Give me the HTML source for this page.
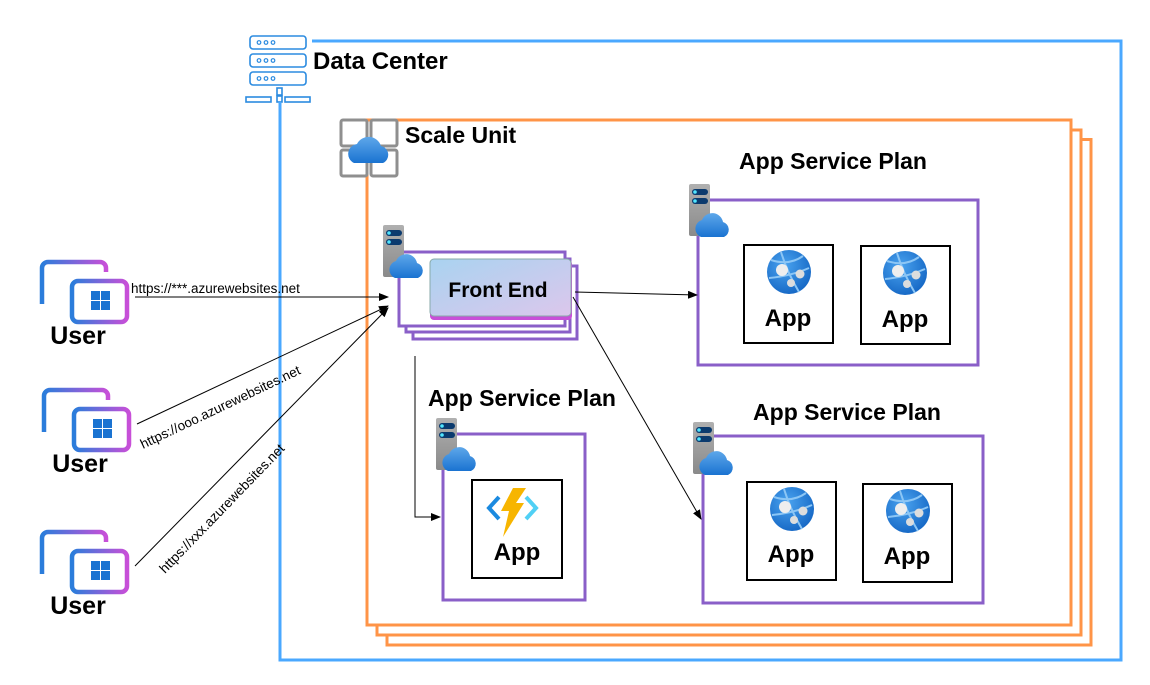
<!DOCTYPE html>
<html><head><meta charset="utf-8"><style>
html,body{margin:0;padding:0;background:#fff;}
svg{display:block;font-family:"Liberation Sans","DejaVu Sans",sans-serif;}
.h{font-weight:bold;}
</style></head><body>
<svg width="1150" height="685" viewBox="0 0 1150 685" xmlns="http://www.w3.org/2000/svg">
<defs>
<linearGradient id="cloud" x1="0" y1="0" x2="0" y2="1"><stop offset="0" stop-color="#5ea7ea"/><stop offset="1" stop-color="#1a73d1"/></linearGradient>
<linearGradient id="srv" x1="0" y1="0" x2="0" y2="1"><stop offset="0" stop-color="#b0b0b0"/><stop offset="1" stop-color="#8a8a8a"/></linearGradient>
<linearGradient id="fe" x1="0" y1="0" x2="1" y2="1"><stop offset="0" stop-color="#a9d3f0"/><stop offset="1" stop-color="#dcc7ec"/></linearGradient>
<linearGradient id="usr" x1="0" y1="0" x2="1" y2="0"><stop offset="0" stop-color="#2a7ddb"/><stop offset="1" stop-color="#c84fd8"/></linearGradient>
<radialGradient id="globe" cx="0.4" cy="0.35" r="0.7"><stop offset="0" stop-color="#4aa3ef"/><stop offset="1" stop-color="#1466c4"/></radialGradient>
<marker id="ah" markerWidth="10" markerHeight="8" refX="9" refY="4" orient="auto" markerUnits="userSpaceOnUse"><path d="M0,0 L10,4 L0,8 z" fill="#000"/></marker>
<g id="server">
<rect x="0" y="0" width="21" height="52" rx="2" fill="url(#srv)"/>
<rect x="3" y="5" width="16" height="6" rx="3" fill="#0b3a6e"/><circle cx="6" cy="8" r="1.8" fill="#50e6ff"/>
<rect x="3" y="14" width="16" height="6" rx="3" fill="#0b3a6e"/><circle cx="6" cy="17" r="1.8" fill="#50e6ff"/>
<path d="M12,53 a9,9 0 0 1 1,-17 a11,11 0 0 1 21,2 a8,8 0 0 1 1,15 z" fill="url(#cloud)"/>
</g>
<g id="globeapp">
<circle cx="0" cy="0" r="22" fill="url(#globe)"/>
<path d="M-18,-12 Q0,-6 14,-16 M-8,-20 Q-2,0 10,20 M-20,6 Q2,4 20,-4" stroke="#8cc6f5" stroke-width="2" fill="none"/>
<circle cx="-7" cy="-2" r="6" fill="#eee"/><circle cx="11" cy="2" r="4.5" fill="#ddd"/><circle cx="2" cy="11" r="4" fill="#ddd"/>
</g>
<g id="user">
<path d="M4,44 V8 a6,6 0 0 1 6,-6 H62 a6,6 0 0 1 6,6 V12" stroke="url(#usr)" stroke-width="4.5" fill="none"/>
<path d="M0,47 H30" stroke="url(#usr)" stroke-width="4.5"/>
<rect x="34" y="21" width="55" height="41" rx="6" fill="#fff" stroke="url(#usr)" stroke-width="4.5"/>
<rect x="53" y="31" width="9" height="9" fill="#1a73d1"/><rect x="63" y="31" width="9" height="9" fill="#1a73d1"/>
<rect x="53" y="41" width="9" height="9" fill="#1a73d1"/><rect x="63" y="41" width="9" height="9" fill="#1a73d1"/>
</g>
</defs>

<rect x="280" y="41" width="841" height="619" fill="none" stroke="#4aa8ff" stroke-width="3"/>
<rect x="240" y="34" width="72" height="68" fill="#fff"/>
<g stroke="#2b8be0" stroke-width="1.6" fill="#fff">
<rect x="250" y="36" width="56" height="13" rx="3"/><rect x="250" y="54" width="56" height="13" rx="3"/><rect x="250" y="72" width="56" height="13" rx="3"/>
<rect x="246" y="97" width="25" height="5"/><rect x="285" y="97" width="25" height="5"/>
<rect x="277" y="88" width="5" height="7"/><rect x="277" y="96" width="5" height="6"/>
</g>
<g fill="none" stroke="#2b8be0" stroke-width="1.2"><circle cx="259" cy="42.5" r="1.8"/><circle cx="266" cy="42.5" r="1.8"/><circle cx="273" cy="42.5" r="1.8"/>
<circle cx="259" cy="60.5" r="1.8"/><circle cx="266" cy="60.5" r="1.8"/><circle cx="273" cy="60.5" r="1.8"/>
<circle cx="259" cy="78.5" r="1.8"/><circle cx="266" cy="78.5" r="1.8"/><circle cx="273" cy="78.5" r="1.8"/></g>
<line x1="280" y1="102" x2="280" y2="660" stroke="#4aa8ff" stroke-width="3"/>
<text x="313" y="69" font-size="24" class="h" fill="#000">Data Center</text>

<g fill="#fff" stroke="#ff9447" stroke-width="3">
<rect x="387" y="139.5" width="704" height="505.5"/>
<rect x="377" y="130" width="704" height="505"/>
<rect x="367" y="120" width="704" height="505"/>
</g>
<g stroke="#8f8f8f" stroke-width="3" fill="#fff">
<rect x="341" y="120" width="26" height="26" rx="2"/><rect x="371" y="120" width="26" height="26" rx="2"/>
<rect x="341" y="150" width="26" height="26" rx="2"/><rect x="371" y="150" width="26" height="26" rx="2"/>
</g>
<path d="M354,163 a10,10 0 0 1 3,-19 a13,13 0 0 1 24,2 a9,9 0 0 1 2,17 z" fill="url(#cloud)"/>
<text x="405" y="143" font-size="23" class="h" fill="#000">Scale Unit</text>

<g fill="#fff" stroke="#8a5fc8" stroke-width="3">
<rect x="413" y="266" width="164" height="73"/>
<rect x="406" y="259" width="164" height="73"/>
<rect x="399" y="252" width="166" height="74"/>
</g>
<rect x="430" y="260" width="142" height="60" rx="4" fill="#c84fd8"/>
<rect x="430" y="259" width="141" height="57" rx="4" fill="url(#fe)" stroke="#8aa" stroke-width="1"/>
<text x="498" y="297" font-size="21" class="h" text-anchor="middle" fill="#000">Front End</text>
<use href="#server" x="383" y="225"/>

<text x="833" y="169" font-size="23" class="h" text-anchor="middle" fill="#000">App Service Plan</text>
<rect x="698" y="200" width="280" height="165" fill="#fff" stroke="#8a5fc8" stroke-width="3"/>
<use href="#server" x="689" y="184"/>
<rect x="744" y="245" width="89" height="98" fill="#fff" stroke="#000" stroke-width="2"/>
<use href="#globeapp" x="789" y="272"/>
<text x="788" y="326" font-size="24" class="h" text-anchor="middle">App</text>
<rect x="861" y="246" width="89" height="98" fill="#fff" stroke="#000" stroke-width="2"/>
<use href="#globeapp" x="905" y="273"/>
<text x="905" y="327" font-size="24" class="h" text-anchor="middle">App</text>

<text x="847" y="420" font-size="23" class="h" text-anchor="middle" fill="#000">App Service Plan</text>
<rect x="703" y="436" width="280" height="167" fill="#fff" stroke="#8a5fc8" stroke-width="3"/>
<use href="#server" x="693" y="422"/>
<rect x="747" y="482" width="89" height="98" fill="#fff" stroke="#000" stroke-width="2"/>
<use href="#globeapp" x="792" y="509"/>
<text x="791" y="562" font-size="24" class="h" text-anchor="middle">App</text>
<rect x="863" y="484" width="89" height="98" fill="#fff" stroke="#000" stroke-width="2"/>
<use href="#globeapp" x="908" y="511"/>
<text x="907" y="564" font-size="24" class="h" text-anchor="middle">App</text>

<text x="522" y="406" font-size="23" class="h" text-anchor="middle" fill="#000">App Service Plan</text>
<rect x="443" y="434" width="142" height="166" fill="#fff" stroke="#8a5fc8" stroke-width="3"/>
<use href="#server" x="436" y="418"/>
<rect x="472" y="480" width="90" height="98" fill="#fff" stroke="#000" stroke-width="2"/>
<path d="M499,497 L489,508 L499,519" stroke="#1b8ae0" stroke-width="4" fill="none"/>
<path d="M526,497 L536,508 L526,519" stroke="#50d0f5" stroke-width="4" fill="none"/>
<path d="M513,488 L526,488 L516,503 L524,503 L503,537 L509,511 L501,511 z" fill="#f7b500"/>
<text x="517" y="560" font-size="24" class="h" text-anchor="middle">App</text>

<g stroke="#000" stroke-width="1" fill="none">
<line x1="575" y1="292" x2="697" y2="295" marker-end="url(#ah)"/>
<line x1="573" y1="297" x2="701" y2="519" marker-end="url(#ah)"/>
<polyline points="415,356 415,517 440,517" marker-end="url(#ah)"/>
<line x1="135" y1="297" x2="388" y2="297" marker-end="url(#ah)"/>
<line x1="137" y1="424" x2="388" y2="306" marker-end="url(#ah)"/>
<line x1="135" y1="566" x2="388" y2="308" marker-end="url(#ah)"/>
</g>
<text x="131" y="293" font-size="13.5">https://***.azurewebsites.net</text>
<text x="0" y="0" font-size="13.5" transform="translate(143,449) rotate(-25.5)">https://ooo.azurewebsites.net</text>
<text x="0" y="0" font-size="13.5" transform="translate(165,574) rotate(-46)">https://xxx.azurewebsites.net</text>

<use href="#user" x="38" y="260"/>
<text x="78" y="344" font-size="25" class="h" text-anchor="middle">User</text>
<use href="#user" x="40" y="388"/>
<text x="80" y="472" font-size="25" class="h" text-anchor="middle">User</text>
<use href="#user" x="38" y="530"/>
<text x="78" y="614" font-size="25" class="h" text-anchor="middle">User</text>
</svg>
</body></html>
